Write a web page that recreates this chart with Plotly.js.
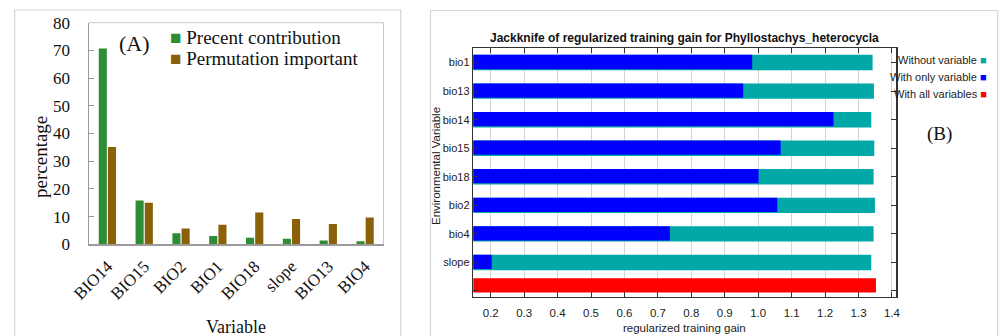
<!DOCTYPE html>
<html>
<head>
<meta charset="utf-8">
<script src="https://cdn.plot.ly/plotly-3.0.1.min.js"></script>
<style>html,body{margin:0;padding:0;background:#fff;}#chart{width:999px;height:336px;}</style>
</head>
<body>
<div id="chart"></div>
<script>
// Panel A data
const varsA = ['BIO14', 'BIO15', 'BIO2', 'BIO1', 'BIO18', 'slope', 'BIO13', 'BIO4'];
const contribution = [70.7, 15.8, 4.0, 3.0, 2.4, 2.0, 1.4, 1.1];
const permutation = [35.1, 15.0, 5.7, 7.1, 11.5, 9.1, 7.3, 9.7];
const ticksA = [0, 10, 20, 30, 40, 50, 60, 70, 80];

// Panel B data
const varsB = ['bio1', 'bio13', 'bio14', 'bio15', 'bio18', 'bio2', 'bio4', 'slope'];
const withoutVar = [1.342, 1.346, 1.338, 1.347, 1.345, 1.349, 1.345, 1.338];
const withOnly = [0.982, 0.955, 1.225, 1.067, 1.001, 1.057, 0.736, 0.203];
const allLabel = [' '];
const withAll = [1.352];
const ticksB = [0.2, 0.3, 0.4, 0.5, 0.6, 0.7, 0.8, 0.9, 1.0, 1.1, 1.2, 1.3, 1.4];

const W = 999, H = 336;
const px = x => x / W;
const py = y => 1 - y / H;

const GREEN = '#2E8B36', BROWN = '#8A6108';
const TEAL = '#00A8A8', BLUE = '#0000FF', RED = '#FF0000';
const SERIF = 'Liberation Serif, Times New Roman, serif';
const NARROW = 'Liberation Sans Narrow, Arial Narrow, Liberation Sans, Arial, sans-serif';
const SANS = 'Liberation Sans, Arial, sans-serif';

const traces = [
  {type: 'bar', x: varsA, y: contribution, name: 'Precent contribution', xaxis: 'x', yaxis: 'y',
   marker: {color: GREEN}, showlegend: false},
  {type: 'bar', x: varsA, y: permutation, name: 'Permutation important', xaxis: 'x', yaxis: 'y',
   marker: {color: BROWN}, showlegend: false},
  {type: 'bar', orientation: 'h', y: varsB, x: withoutVar, name: 'Without variable', xaxis: 'x2', yaxis: 'y2',
   marker: {color: TEAL, line: {width: 0}}, width: 0.54, offset: -0.27, showlegend: false},
  {type: 'bar', orientation: 'h', y: varsB, x: withOnly, name: 'With only variable', xaxis: 'x2', yaxis: 'y2',
   marker: {color: BLUE, line: {width: 0}}, width: 0.5, offset: -0.27, showlegend: false},
  {type: 'bar', orientation: 'h', y: allLabel, x: withAll, name: 'With all variables', xaxis: 'x2', yaxis: 'y2',
   marker: {color: RED, line: {width: 0}}, width: 0.5, offset: -0.45, showlegend: false}
];

const layout = {
  width: W, height: H,
  margin: {l: 0, r: 0, t: 0, b: 0},
  paper_bgcolor: '#ffffff', plot_bgcolor: '#ffffff',
  showlegend: false,
  barmode: 'group', bargap: 0.5, bargroupgap: 0.12,
  xaxis: {
    domain: [px(89), px(383.5)], anchor: 'y',
    type: 'category', categoryorder: 'array', categoryarray: varsA,
    tickangle: -45, ticks: '', showgrid: false, zeroline: false,
    showline: true, linecolor: '#9a9a9a', linewidth: 1.5, mirror: false,
    tickfont: {family: SERIF, size: 17, color: '#111'}, ticklabelstandoff: 4
  },
  yaxis: {
    domain: [py(244.3), py(22.7)], anchor: 'x',
    range: [0, 80], tickvals: ticksA, ticks: 'inside', ticklen: 5, tickcolor: '#9a9a9a',
    showgrid: false, zeroline: false, showline: true, linecolor: '#9a9a9a', linewidth: 1.5,
    tickfont: {family: SERIF, size: 17, color: '#111'}, ticklabelstandoff: 14
  },
  xaxis2: {
    domain: [px(473.3), px(896)], anchor: 'y2',
    range: [0.148, 1.412], tickvals: ticksB, tickformat: '.1f',
    ticks: 'inside', ticklen: 5, tickcolor: '#333', mirror: 'ticks',
    showline: true, linecolor: '#333', linewidth: 1.5,
    showgrid: true, gridcolor: '#d4d4d4', gridwidth: 1, zeroline: false,
    tickfont: {family: NARROW, size: 11.5, color: '#222'}, ticklabelstandoff: 5
  },
  yaxis2: {
    domain: [py(296.7), py(48.3)], anchor: 'x2',
    type: 'category', categoryorder: 'array', categoryarray: varsB.concat(allLabel),
    range: [8.2, -0.5],
    ticks: 'inside', ticklen: 5, tickcolor: '#333', mirror: 'ticks',
    showline: true, linecolor: '#333', linewidth: 1.5,
    showgrid: false, zeroline: false,
    tickfont: {family: NARROW, size: 11, color: '#222'}, ticklabelstandoff: 0
  },
  shapes: [
    {type: 'rect', xref: 'paper', yref: 'paper', x0: px(14.7), x1: px(400.7), y0: py(345), y1: py(10),
     line: {color: '#d6d6d6', width: 1.2}, layer: 'below'},
    {type: 'rect', xref: 'paper', yref: 'paper', x0: px(430.5), x1: px(997.7), y0: py(345), y1: py(10.5),
     line: {color: '#d6d6d6', width: 1.2}, layer: 'below'},
    {type: 'line', xref: 'paper', yref: 'paper', x0: px(89), x1: px(383.5), y0: py(22.7), y1: py(22.7),
     line: {color: '#c8c8c8', width: 1}},
    {type: 'line', xref: 'paper', yref: 'paper', x0: px(383.5), x1: px(383.5), y0: py(22.7), y1: py(244.3),
     line: {color: '#c8c8c8', width: 1}}
  ],
  annotations: [
    {xref: 'paper', yref: 'paper', x: px(134), y: py(43), text: '(A)', showarrow: false,
     xanchor: 'center', yanchor: 'middle', font: {family: SERIF, size: 22, color: '#111'}},
    {xref: 'paper', yref: 'paper', x: px(168), y: py(37), text: '<span style="color:' + GREEN + '">■</span> Precent contribution',
     showarrow: false, xanchor: 'left', yanchor: 'middle', font: {family: SERIF, size: 19, color: '#111'}},
    {xref: 'paper', yref: 'paper', x: px(168), y: py(58), text: '<span style="color:' + BROWN + '">■</span> Permutation important',
     showarrow: false, xanchor: 'left', yanchor: 'middle', font: {family: SERIF, size: 19, color: '#111'}},
    {xref: 'paper', yref: 'paper', x: px(236), y: py(327), text: 'Variable', showarrow: false,
     xanchor: 'center', yanchor: 'middle', font: {family: SERIF, size: 18, color: '#111'}},
    {xref: 'paper', yref: 'paper', x: px(40), y: py(157), text: 'percentage', showarrow: false, textangle: -90,
     xanchor: 'center', yanchor: 'middle', font: {family: SERIF, size: 19, color: '#111'}},
    {xref: 'paper', yref: 'paper', x: px(684), y: py(38), text: '<b>Jackknife of regularized training gain for Phyllostachys_heterocycla</b>',
     showarrow: false, xanchor: 'center', yanchor: 'middle', font: {family: NARROW, size: 12, color: '#111'}},
    {xref: 'paper', yref: 'paper', x: px(684), y: py(328), text: 'regularized training gain', showarrow: false,
     xanchor: 'center', yanchor: 'middle', font: {family: NARROW, size: 11.5, color: '#222'}},
    {xref: 'paper', yref: 'paper', x: px(436), y: py(166), text: 'Environmental Variable', showarrow: false, textangle: -90,
     xanchor: 'center', yanchor: 'middle', font: {family: SANS, size: 11.5, color: '#222'}},
    {xref: 'paper', yref: 'paper', x: px(989), y: py(60), text: 'Without variable <span style="color:' + TEAL + '">■</span>',
     showarrow: false, xanchor: 'right', yanchor: 'middle', font: {family: NARROW, size: 11, color: '#222'}},
    {xref: 'paper', yref: 'paper', x: px(989), y: py(77), text: 'With only variable <span style="color:' + BLUE + '">■</span>',
     showarrow: false, xanchor: 'right', yanchor: 'middle', font: {family: NARROW, size: 11, color: '#222'}},
    {xref: 'paper', yref: 'paper', x: px(989), y: py(94), text: 'With all variables <span style="color:' + RED + '">■</span>',
     showarrow: false, xanchor: 'right', yanchor: 'middle', font: {family: NARROW, size: 11, color: '#222'}},
    {xref: 'paper', yref: 'paper', x: px(939), y: py(134), text: '(B)', showarrow: false,
     xanchor: 'center', yanchor: 'middle', font: {family: SERIF, size: 19, color: '#111'}}
  ]
};

Plotly.newPlot('chart', traces, layout, {displayModeBar: false, staticPlot: true});
</script>
</body>
</html>
